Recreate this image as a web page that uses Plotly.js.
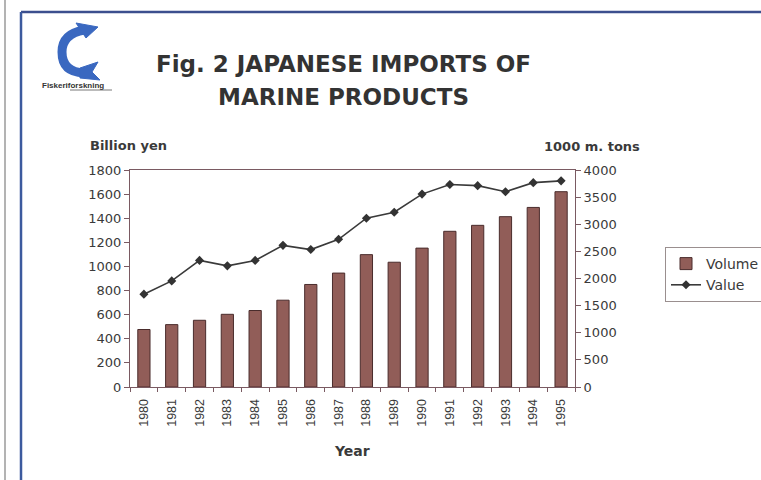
<!DOCTYPE html>
<html>
<head>
<meta charset="utf-8">
<script src="https://cdn.plot.ly/plotly-3.0.1.min.js"></script>
<style>
html,body{margin:0;padding:0;background:#fff;}
#chart{width:761px;height:480px;}
</style>
</head>
<body>
<div id="chart"></div>
<script>
// ---- data ----
const years = ['1980','1981','1982','1983','1984','1985','1986','1987','1988','1989','1990','1991','1992','1993','1994','1995'];
const volume = [1060, 1150, 1230, 1340, 1410, 1600, 1890, 2100, 2440, 2300, 2560, 2870, 2980, 3140, 3310, 3600]; // 1000 m. tons (right axis)
const value = [770, 880, 1050, 1005, 1050, 1175, 1140, 1225, 1400, 1450, 1600, 1680, 1670, 1620, 1695, 1710]; // billion yen (left axis)
const leftTicks = [0,200,400,600,800,1000,1200,1400,1600,1800];
const rightTicks = [0,500,1000,1500,2000,2500,3000,3500,4000];

// ---- layout geometry ----
const W = 761, H = 480;
const M = {l:130, r:186, t:170, b:93};
const PW = W - M.l - M.r, PH = H - M.t - M.b;
const px = x => (x - M.l) / PW;
const py = y => (H - M.b - y) / PH;

const font = 'DejaVu Sans, Verdana, sans-serif';
const fontN = 'Liberation Sans, Arial, sans-serif';
const axisCol = '#7a5a62';
const txtCol = '#3a3a3a';

const traces = [
  {
    type:'bar', name:'Volume', x:years, y:volume, yaxis:'y2',
    marker:{color:'#915d58', line:{color:'#4a2c2c', width:1}}
  },
  {
    type:'scatter', mode:'lines+markers', name:'Value', x:years, y:value, yaxis:'y',
    line:{color:'#3a3a3a', width:1.6},
    marker:{symbol:'diamond', size:7, color:'#333'}
  }
];

function pathFromPx(cmds){
  return cmds.map(c => {
    if (typeof c === 'string') return c;
    return px(c[0]).toFixed(4) + ',' + py(c[1]).toFixed(4);
  }).join(' ');
}

const logoBody = pathFromPx(['M',[84,30],'Q',[62,34],[62,52],'Q',[62,72],[84,73]]);
const logoHead = pathFromPx(['M',[76,23],'L',[98,27],'L',[86,38],'Z']);
const logoTail = pathFromPx(['M',[80,68],'L',[98,62],'L',[92,72],'L',[100,80],'L',[80,78],'Z']);

const layout = {
  width:W, height:H,
  margin:{l:M.l, r:M.r, t:M.t, b:M.b, pad:0, autoexpand:false},
  paper_bgcolor:'#ffffff', plot_bgcolor:'#ffffff',
  font:{family:font, size:13, color:txtCol},
  showlegend:true,
  bargap:0.56,
  legend:{x:px(665), y:py(247), xanchor:'left', yanchor:'top',
    bordercolor:'#9a8f8f', borderwidth:1, bgcolor:'#ffffff',
    font:{family:font, size:14, color:txtCol}, tracegroupgap:0, itemwidth:30},
  xaxis:{
    type:'category', range:[-0.5, 15.5], autorange:false,
    showline:true, linecolor:axisCol, linewidth:1, mirror:true,
    ticks:'outside', ticklen:4, tickcolor:axisCol, tickson:'boundaries',
    tickangle:-90, ticklabelstandoff:6, tickfont:{family:fontN, size:12.5, color:txtCol},
    showgrid:false, zeroline:false, fixedrange:true
  },
  yaxis:{
    range:[0,1800], tickvals:leftTicks, ticktext:leftTicks.map(String),
    showline:true, linecolor:axisCol, linewidth:1,
    ticks:'outside', ticklen:5, tickcolor:axisCol,
    showgrid:false, zeroline:false, tickfont:{family:font, size:13, color:txtCol}
  },
  yaxis2:{
    range:[0,4000], tickvals:rightTicks, ticktext:rightTicks.map(String),
    overlaying:'y', side:'right',
    showline:true, linecolor:axisCol, linewidth:1,
    ticks:'outside', ticklen:5, tickcolor:axisCol,
    showgrid:false, zeroline:false, tickfont:{family:font, size:13, color:txtCol}
  },
  annotations:[
    {xref:'paper', yref:'paper', x:px(343), y:py(64), text:'Fig. 2 JAPANESE IMPORTS OF', showarrow:false,
      xanchor:'center', yanchor:'middle', font:{family:font, size:23, color:'#333', weight:'bold'}},
    {xref:'paper', yref:'paper', x:px(343), y:py(97), text:'MARINE PRODUCTS', showarrow:false,
      xanchor:'center', yanchor:'middle', font:{family:font, size:23, color:'#333', weight:'bold'}},
    {xref:'paper', yref:'paper', x:px(88), y:py(145), text:'<b>Billion yen</b>', showarrow:false,
      xanchor:'left', yanchor:'middle', font:{family:font, size:13, color:txtCol}},
    {xref:'paper', yref:'paper', x:px(642), y:py(147), text:'<b>1000 m. tons</b>', showarrow:false,
      xanchor:'right', yanchor:'middle', font:{family:font, size:13, color:txtCol}},
    {xref:'paper', yref:'paper', x:px(352), y:py(451), text:'<b>Year</b>', showarrow:false,
      xanchor:'center', yanchor:'middle', font:{family:font, size:14, color:txtCol}},
    {xref:'paper', yref:'paper', x:px(73), y:py(85), text:'<b>Fiskeriforskning</b>', showarrow:false,
      xanchor:'center', yanchor:'middle', font:{family:fontN, size:8, color:'#333'}}
  ],
  shapes:[
    {type:'line', xref:'paper', yref:'paper', x0:px(5), x1:px(5), y0:py(0), y1:py(480), line:{color:'#9a9a9a', width:1.5}},
    {type:'line', xref:'paper', yref:'paper', x0:px(21), x1:px(761), y0:py(12), y1:py(12), line:{color:'#3c4f8e', width:2.5}},
    {type:'line', xref:'paper', yref:'paper', x0:px(21), x1:px(21), y0:py(12), y1:py(480), line:{color:'#3c5a9e', width:2.5}},
    {type:'path', xref:'paper', yref:'paper', path:logoBody, line:{color:'#3a68c0', width:9}, fillcolor:'rgba(0,0,0,0)'},
    {type:'path', xref:'paper', yref:'paper', path:logoHead, line:{color:'#3a68c0', width:1}, fillcolor:'#3a68c0'},
    {type:'path', xref:'paper', yref:'paper', path:logoTail, line:{color:'#3a68c0', width:1}, fillcolor:'#3a68c0'},
    {type:'line', xref:'paper', yref:'paper', x0:px(70), x1:px(112), y0:py(90), y1:py(90), line:{color:'#555', width:0.8}}
  ]
};

Plotly.newPlot('chart', traces, layout, {displayModeBar:false, staticPlot:true});
</script>
</body>
</html>
